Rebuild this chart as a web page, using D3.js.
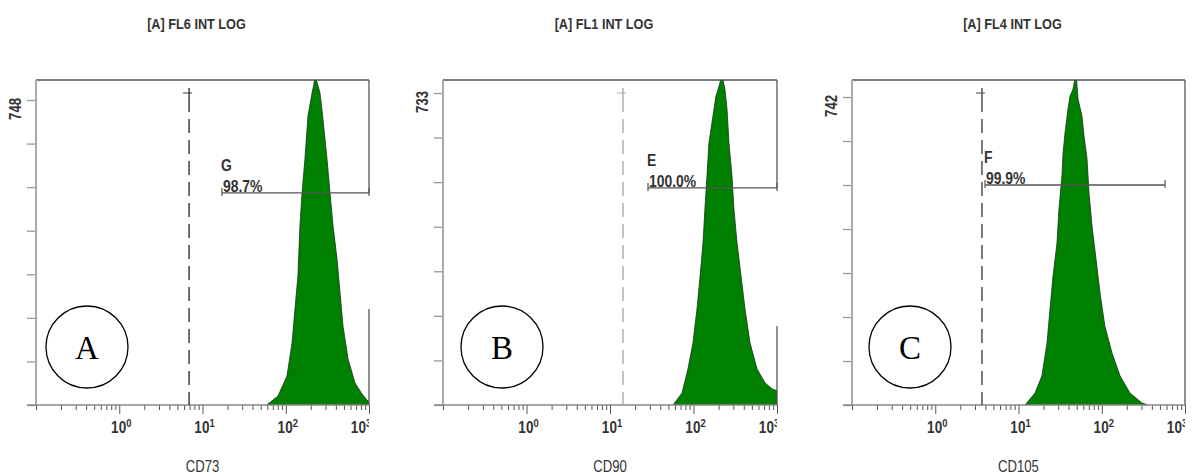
<!DOCTYPE html>
<html><head><meta charset="utf-8">
<script src="https://cdn.jsdelivr.net/npm/d3@7"></script>
<style>
body{margin:0;background:#fff;}
svg{display:block;font-family:"Liberation Sans",Arial,sans-serif;}
</style></head><body>
<svg id="chart" width="1192" height="476"></svg>
<script>
// chart text
const titles=["[A] FL6 INT LOG","[A] FL1 INT LOG","[A] FL4 INT LOG"];
const markerNames=["CD73","CD90","CD105"];
const panelLetters=["A","B","C"];
const gateNames=["G","E","F"];
const gatePercents=["98.7%","100.0%","99.9%"];
const yMaxLabels=[748,733,742];
const xTickValues=[1,10,100,1000];
const xTickExps=["0","1","2","3"];

// gates (intensity / count units)
const gateCuts=[6.9,14.3,3.64];
const gateRanges=[[17.1,1000],[28.5,1000],[3.96,576]];
const gateHeights=[520,510,530];

// histograms: intensity (log axis) and event count
const intensityA=[59,80.7,103.5,119,129,140,148,157,170,185,207,218,224,258,280,313,340,370,413,449,487,560,679,824,946,1000];
const countsA=[0,22,71,152,235,316,439,520,603,709,765,787,810,765,701,603,520,439,358,275,194,113,54,27,12,8];
const intensityB=[56.8,72.8,85.9,98.6,110,120,130,137,145,153,171,186,202,219,238,252,266,289,305,332,371,414,475,576,718,871,1000];
const countsB=[0,28,85,146,225,303,381,460,538,615,679,726,749,775,742,695,615,538,460,381,303,225,146,85,52,38,33];
const intensityC=[12.0,15.8,19.1,22.0,23.9,26.0,29.0,30.6,33.3,34.3,36.2,39.3,41.6,45.2,49.1,51.9,57.9,61.2,66.5,70.3,76.4,85.3,95.3,109,133,166,218,304,360];
const countsC=[0,29,70,149,231,311,390,472,552,607,655,713,744,761,800,737,696,648,593,511,431,352,270,190,125,70,29,5,0];

const intensities=[intensityA,intensityB,intensityC];
const counts=[countsA,countsB,countsC];

// layout
const TOP=80,BOTTOM=405;
const layout=[
  {left:36,right:369,tickY:100,rightBorder:[[80,193],[309,405]],gateColor:"#333",circleX:87},
  {left:443,right:777,tickY:93,rightBorder:[[80,188],[326,405]],gateColor:"#aaa",circleX:502},
  {left:852,right:1185,tickY:97,rightBorder:[[80,405]],gateColor:"#444",circleX:910}
];
const textColor="#333";
const NARROW=0.82; // squeeze Liberation Sans to look like a narrow face

function narrowText(g,x,y,size,weight,anchor,str,extra){
  return g.append("text")
    .attr("transform",`translate(${x},${y})${extra||""} scale(${NARROW},1)`)
    .attr("text-anchor",anchor).attr("font-size",size).attr("font-weight",weight)
    .attr("fill",textColor).text(str);
}

const svg=d3.select("#chart");
const defs=svg.append("defs");

layout.forEach((L,i)=>{
  const x=d3.scaleLog().domain([0.1,1000]).range([L.left,L.right]);
  const y=d3.scaleLinear().domain([0,yMaxLabels[i]]).range([BOTTOM,L.tickY]);
  const g=svg.append("g");

  defs.append("clipPath").attr("id","clip"+i).append("rect")
    .attr("x",L.left).attr("y",TOP).attr("width",L.right-L.left).attr("height",BOTTOM-TOP);
  defs.append("clipPath").attr("id","lclip"+i).append("rect")
    .attr("x",L.left-60).attr("y",BOTTOM).attr("width",L.right-L.left+60).attr("height",60);

  // histogram
  const pts=d3.zip(intensities[i],counts[i]);
  const area=d3.area().x(d=>x(d[0])).y0(BOTTOM).y1(d=>y(d[1]));
  g.append("path").datum(pts).attr("clip-path","url(#clip"+i+")")
    .attr("d",area).attr("fill","#008000").attr("stroke","#173317").attr("stroke-width",0.8);

  // frame
  g.append("line").attr("x1",L.left).attr("x2",L.right).attr("y1",TOP).attr("y2",TOP)
    .attr("stroke","#4d4d4d").attr("stroke-width",1.5);
  L.rightBorder.forEach(s=>g.append("line").attr("x1",L.right).attr("x2",L.right).attr("y1",s[0]).attr("y2",s[1])
    .attr("stroke","#555").attr("stroke-width",1.3));

  // y axis
  const yAxis=d3.axisLeft(y).tickValues(d3.range(8).map(k=>yMaxLabels[i]*k/7)).tickSize(9).tickFormat("");
  const ya=g.append("g").attr("transform",`translate(${L.left},0)`).call(yAxis);
  ya.select(".domain").remove();
  ya.selectAll(".tick line").attr("stroke","#999").attr("stroke-width",1.3);
  g.append("line").attr("x1",L.left).attr("x2",L.left).attr("y1",TOP).attr("y2",BOTTOM)
    .attr("stroke","#aaa").attr("stroke-width",2);
  narrowText(g,L.left-15,L.tickY-2,16,"bold","end",yMaxLabels[i]," rotate(-90)");

  // x axis
  const xAxis=d3.axisBottom(x).tickValues(x.ticks()).tickFormat("").tickSizeOuter(0);
  const xa=g.append("g").attr("transform",`translate(0,${BOTTOM})`).call(xAxis);
  xa.select(".domain").remove();
  xa.selectAll(".tick line").attr("stroke","#555").attr("stroke-width",1)
    .attr("y2",d=>xTickValues.includes(d)?9:5);
  g.append("line").attr("x1",L.left-9).attr("x2",L.right).attr("y1",BOTTOM).attr("y2",BOTTOM)
    .attr("stroke","#888").attr("stroke-width",1.6);
  const lab=g.append("g").attr("clip-path","url(#lclip"+i+")");
  xTickValues.forEach((v,k)=>{
    const t=narrowText(lab,x(v)+2-(k===3?10:0),433,16.5,"bold","middle","");
    t.append("tspan").text("10");
    t.append("tspan").attr("dy",-6).attr("font-size",11.5).text(xTickExps[k]);
  });

  // titles
  narrowText(g,(L.left+L.right)/2-6,29,15.5,"bold","middle",titles[i]);
  narrowText(g,(L.left+L.right)/2,472,16,"normal","middle",markerNames[i]);

  // gate cut line
  const gx=x(gateCuts[i]);
  g.append("line").attr("x1",gx).attr("x2",gx).attr("y1",98).attr("y2",BOTTOM)
    .attr("stroke",L.gateColor).attr("stroke-width",1.4).attr("stroke-dasharray","14,7");
  g.append("line").attr("x1",gx).attr("x2",gx).attr("y1",88).attr("y2",98)
    .attr("stroke",L.gateColor).attr("stroke-width",1.4);
  g.append("line").attr("x1",gx-6).attr("x2",gx+3).attr("y1",93).attr("y2",93)
    .attr("stroke",L.gateColor).attr("stroke-width",1);

  // gate range marker
  const my=y(gateHeights[i]);
  const x0=x(gateRanges[i][0]),x1=x(gateRanges[i][1]);
  g.append("line").attr("x1",x0).attr("x2",x1).attr("y1",my).attr("y2",my)
    .attr("stroke","#555").attr("stroke-width",1.3);
  [x0,x1].forEach(xx=>g.append("line").attr("x1",xx).attr("x2",xx).attr("y1",my-5).attr("y2",my+3)
    .attr("stroke","#555").attr("stroke-width",1.2));
  narrowText(g,x0-1,my-22,17,"bold","start",gateNames[i]);
  narrowText(g,x0+1,my-1,17,"bold","start",gatePercents[i]);

  // panel letter
  g.append("circle").attr("cx",L.circleX).attr("cy",347).attr("r",41)
    .attr("fill","#fff").attr("stroke","#000").attr("stroke-width",1.3);
  g.append("text").attr("x",L.circleX).attr("y",359).attr("text-anchor","middle")
    .attr("font-family","'Liberation Serif','Times New Roman',serif").attr("font-size",33)
    .attr("fill","#000").text(panelLetters[i]);
});
</script>
</body></html>
